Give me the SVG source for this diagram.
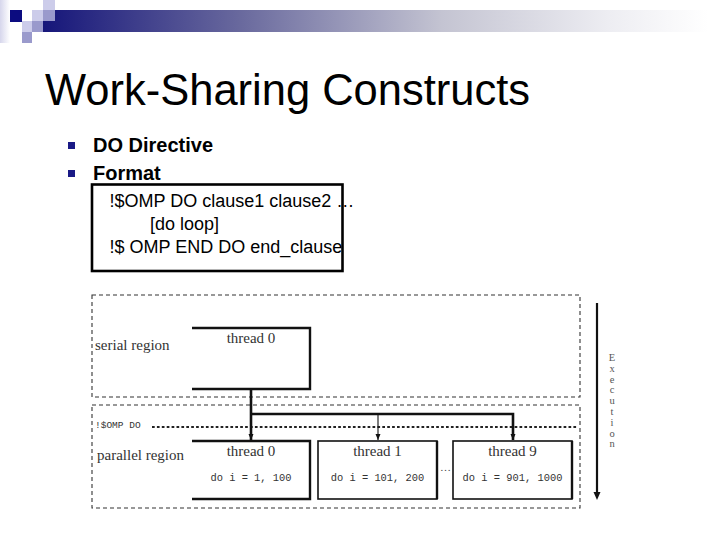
<svg xmlns="http://www.w3.org/2000/svg" width="720" height="540" viewBox="0 0 720 540">
<defs>
<linearGradient id="bar" x1="0" y1="0" x2="1" y2="0">
<stop offset="0" stop-color="#16167a"/>
<stop offset="0.3" stop-color="#6a6a9e"/>
<stop offset="0.6" stop-color="#c4c4d2"/>
<stop offset="0.85" stop-color="#ededf2"/>
<stop offset="1" stop-color="#ffffff"/>
</linearGradient>
<linearGradient id="pale" x1="0" y1="0" x2="1" y2="0">
<stop offset="0" stop-color="#d6d6ec"/>
<stop offset="1" stop-color="#ffffff"/>
</linearGradient>
<marker id="ah" viewBox="0 0 6 6" refX="6" refY="3" markerWidth="6" markerHeight="6" markerUnits="userSpaceOnUse" orient="auto">
<path d="M0,0.5 L6,3 L0,5.5 z" fill="#111"/>
</marker>
<style>
.title{font-family:"Liberation Sans",Arial,sans-serif;font-size:43.5px;fill:#000}
.bul{font-family:"Liberation Sans",Arial,sans-serif;font-size:20px;font-weight:bold;fill:#000}
.code{font-family:"Liberation Sans",Arial,sans-serif;font-size:18px;fill:#000}
.region{fill:none;stroke:#333;stroke-width:1.1;stroke-dasharray:4 3}
.lbl{font-family:"Liberation Serif","DejaVu Serif",serif;font-size:15px;fill:#333}
.mono{font-family:"Liberation Mono","DejaVu Sans Mono",monospace;font-size:10.4px;fill:#333}
.box{fill:#fff;stroke:#111;stroke-width:1.6}
.edge{fill:none;stroke:#111;stroke-width:2.4}
.conn{fill:none;stroke:#111;stroke-width:2.6}
.exec{font-family:"Liberation Serif","DejaVu Serif",serif;font-size:10.5px;fill:#555;writing-mode:vertical-rl;text-orientation:upright;letter-spacing:-0.2px}
</style>
</defs>
<rect width="720" height="540" fill="#fff"/>

<g id="header">
<rect x="0" y="0" width="10" height="43" fill="url(#pale)"/>
<rect x="43" y="10" width="665" height="22" fill="url(#bar)"/>
<rect x="10" y="10" width="12" height="12" fill="#0c0c80"/>
<rect x="32" y="10" width="11" height="11" fill="#ccccea"/>
<rect x="43" y="0" width="12" height="10" fill="#ccccea"/>
<rect x="43" y="10" width="12" height="11" fill="#9a9acc"/>
<rect x="22" y="21" width="10" height="11" fill="#ccccea"/>
<rect x="32" y="21" width="11" height="11" fill="#9a9acc"/>
<rect x="22" y="32" width="10" height="11" fill="#9a9acc"/>
</g>

<g id="title">
<text class="title" x="45" y="105">Work-Sharing Constructs</text>
</g>

<g id="bullets">
<rect x="68" y="142" width="7" height="7" fill="#1a1a86"/>
<rect x="68" y="170" width="7" height="7" fill="#1a1a86"/>
<text class="bul" x="93" y="152">DO Directive</text>
<text class="bul" x="93" y="180">Format</text>
</g>

<g id="format-box">
<rect x="92" y="184.5" width="250.5" height="86.5" fill="#fff" stroke="#000" stroke-width="2.6"/>
<text class="code" x="109.5" y="207">!$OMP DO clause1 clause2 …</text>
<text class="code" x="150" y="230">[do loop]</text>
<text class="code" x="109.5" y="253">!$ OMP END DO end_clause</text>
</g>

<g id="serial-region">
<rect class="region" x="92" y="295" width="488" height="102"/>
<text class="lbl" x="95" y="350">serial region</text>
</g>

<g id="parallel-region">
<rect class="region" x="92" y="405" width="488" height="103"/>
<text class="lbl" x="97" y="460">parallel region</text>
</g>

<g id="omp-do">
<text x="95" y="428" font-family="'Liberation Mono','DejaVu Sans Mono',monospace" font-size="9.5" fill="#333">!$OMP DO</text>
<line x1="152" y1="427" x2="578" y2="427" stroke="#222" stroke-width="2" stroke-dasharray="2.7 2.2"/>
</g>

<g id="serial-thread0">
<path class="edge" d="M192,328 H310 V389 H192"/>
<text class="lbl" x="251" y="343" text-anchor="middle" font-size="14" fill="#555">thread 0</text>
</g>

<g id="thread0">
<path class="edge" d="M192,441 H310 V499 H192"/>
<text class="lbl" x="251" y="456" text-anchor="middle">thread 0</text>
<text class="mono" x="251" y="481" text-anchor="middle">do i = 1, 100</text>
</g>

<g id="thread1">
<rect class="box" x="318" y="441" width="119" height="58"/>
<line class="edge" x1="437" y1="441" x2="437" y2="499"/>
<text class="lbl" x="377.5" y="456" text-anchor="middle">thread 1</text>
<text class="mono" x="377.5" y="481" text-anchor="middle">do i = 101, 200</text>
</g>

<text id="dots" x="445.5" y="471" text-anchor="middle" font-family="'Liberation Serif',serif" font-size="11" fill="#444">…</text>

<g id="thread9">
<rect class="box" x="453" y="441" width="119" height="58"/>
<line class="edge" x1="572" y1="441" x2="572" y2="499"/>
<text class="lbl" x="512.5" y="456" text-anchor="middle">thread 9</text>
<text class="mono" x="512.5" y="481" text-anchor="middle">do i = 901, 1000</text>
</g>

<g id="connectors">
<path class="conn" d="M251,389 V440" marker-end="url(#ah)"/>
<path class="conn" d="M251,414 H513 V440" marker-end="url(#ah)"/>
<path fill="none" stroke="#111" stroke-width="1.1" d="M378,414 V440" marker-end="url(#ah)"/>
</g>

<g id="execution">
<line x1="597" y1="303" x2="597" y2="493" stroke="#111" stroke-width="2.2"/>
<path d="M593.5,492 L600.5,492 L597,500 z" fill="#111"/>
<text class="exec" x="612" y="352">Execution</text>
</g>
</svg>
